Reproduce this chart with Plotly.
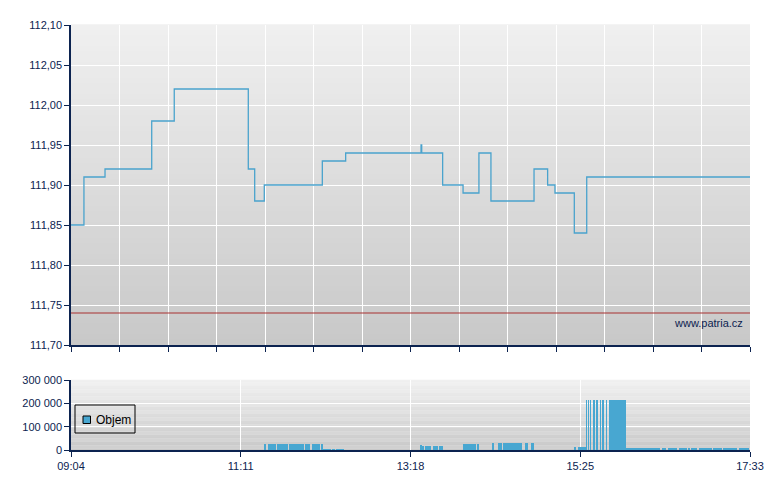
import plotly.graph_objects as go

# ---------------- data ----------------
SESSION_MINUTES = 509  # 09:04 -> 17:33

# price: step changes (minutes from 09:04) and price after the change
price_minutes = [0, 9.7, 25.5, 60.5, 77.4, 132.9, 137.7, 144.9, 188.4, 205.9,
                 262.4, 262.9, 278.6, 293.9, 305.8, 314.8, 347.1, 357.3, 362.8,
                 377.3, 386.6, 509]
price_values = [111.85, 111.91, 111.92, 111.98, 112.02, 111.92, 111.88, 111.90,
                111.93, 111.94, 111.95, 111.94, 111.90, 111.89, 111.94, 111.88,
                111.92, 111.90, 111.89, 111.84, 111.91, 111.91]

reference_price = 111.74

# volume blocks: start / end (minutes from 09:04) and volume
vol_start = [145.0, 147.5, 154.5, 163.5, 175.5, 180.5, 188.0, 189.0, 196.0, 199.0,
             262.0, 263.5, 265.0, 267.0, 271.0, 273.0, 275.5,
             293.9, 305.0,
             315.6, 320.1, 324.1, 326.8, 330.8, 333.6, 340.3, 344.8,
             377.0, 380.0,
             386.1, 387.6, 389.1, 391.3, 394.3, 396.6, 398.8, 401.1, 403.3,
             416.0, 419.4, 423.9, 428.4, 432.9, 442.7, 447.2, 455.4, 462.9,
             465.1, 470.4, 478.6, 481.6, 489.1, 493.6, 500.4, 504.1]
vol_end = [146.5, 153.5, 162.5, 174.5, 179.5, 187.0, 189.0, 195.0, 198.0, 205.0,
           263.0, 264.5, 266.5, 270.0, 272.5, 275.0, 279.0,
           303.6, 306.0,
           317.1, 323.3, 326.6, 330.4, 333.4, 338.3, 342.8, 347.1,
           378.5, 386.0,
           386.8, 388.3, 389.8, 392.8, 395.1, 397.3, 399.6, 401.8, 416.0,
           418.7, 423.2, 427.7, 432.2, 441.5, 446.4, 454.6, 462.1, 464.0,
           469.6, 477.9, 480.5, 488.0, 492.9, 499.6, 503.4, 508.6]
vol_value = [26000, 26000, 26000, 26000, 26000, 26000, 26000, 3000, 3000, 3000,
             23000, 17000, 17000, 17000, 17000, 17000, 17000,
             26000, 26000,
             31000, 31000, 31000, 31000, 31000, 31000, 31000, 31000,
             13000, 13000,
             214000, 214000, 214000, 214000, 214000, 214000, 214000, 214000, 214000,
             8000, 8000, 8000, 8000, 8000, 8000, 8000, 8000, 8000,
             8000, 8000, 8000, 8000, 8000, 8000, 8000, 8000]

price_ticks = [111.70, 111.75, 111.80, 111.85, 111.90, 111.95, 112.00, 112.05, 112.10]
price_tick_text = ["111,70", "111,75", "111,80", "111,85", "111,90", "111,95",
                   "112,00", "112,05", "112,10"]
vol_ticks = [0, 100000, 200000, 300000]
vol_tick_text = ["0", "100 000", "200 000", "300 000"]
time_tick_text = ["09:04", "11:11", "13:18", "15:25", "17:33"]
legend_label = "Objem"
watermark = "www.patria.cz"

# ---------------- style ----------------
NAVY = "#0c2350"
LINE_BLUE = "#4aa3cd"
BAR_BLUE = "#48a7d1"
FONT = "Liberation Sans, Arial, sans-serif"

# plot-area geometry (pixels in the 780x490 picture)
PX_L, PX_R, PX_T, PX_B = 71, 750, 25, 450
PAGE_OFFSET = 8  # browser body margin


def px_x(px):
    return (px - PX_L) / (PX_R - PX_L)


def px_y(py):
    return (PX_B - py) / (PX_B - PX_T)


fig = go.Figure()

fig.add_trace(go.Scatter(
    x=price_minutes, y=price_values, mode="lines",
    line=dict(shape="hv", color=LINE_BLUE, width=1.3),
    showlegend=False, hoverinfo="skip", xaxis="x", yaxis="y"))

fig.add_trace(go.Scatter(
    x=[0, SESSION_MINUTES], y=[reference_price, reference_price], mode="lines",
    line=dict(color="#a83030", width=1), showlegend=False, hoverinfo="skip",
    xaxis="x", yaxis="y"))

fig.add_trace(go.Bar(
    x=[(s + e) / 2 for s, e in zip(vol_start, vol_end)],
    y=vol_value,
    width=[e - s for s, e in zip(vol_start, vol_end)],
    marker=dict(color=BAR_BLUE, line=dict(width=0)),
    showlegend=False, xaxis="x2", yaxis="y2", hoverinfo="skip"))


# gradient backgrounds
def gradient(xref, yref, top=(0xf0, 0xf0, 0xf0), bottom=(0xc8, 0xc8, 0xc8), n=60):
    shapes = []
    for i in range(n):
        t = (i + 0.5) / n
        c = tuple(round(top[k] + (bottom[k] - top[k]) * t) for k in range(3))
        shapes.append(dict(
            type="rect", xref=xref, yref=yref, x0=0, x1=1,
            y0=1 - (i + 1) / n, y1=1 - i / n + 0.002,
            fillcolor="rgb(%d,%d,%d)" % c, line=dict(width=0), layer="below"))
    return shapes


shapes = gradient("x domain", "y domain") + gradient("x2 domain", "y2 domain")

# hand-drawn legend box for the volume panel
shapes.append(dict(type="rect", xref="paper", yref="paper",
                   x0=px_x(75), x1=px_x(135), y0=px_y(433), y1=px_y(405),
                   line=dict(color="black", width=1), fillcolor="rgba(0,0,0,0)",
                   layer="above"))
shapes.append(dict(type="rect", xref="paper", yref="paper",
                   x0=px_x(83), x1=px_x(90.5), y0=px_y(423.5), y1=px_y(416),
                   line=dict(color="black", width=1), fillcolor=BAR_BLUE,
                   layer="above"))

main_ticks = [SESSION_MINUTES * k / 14 for k in range(15)]
vol_time_ticks = [SESSION_MINUTES * k / 4 for k in range(5)]

axis_common = dict(showline=True, linecolor=NAVY, linewidth=1.5,
                   ticks="outside", tickcolor=NAVY, ticklen=5, tickwidth=1,
                   gridcolor="white", gridwidth=1, zeroline=False,
                   tickfont=dict(family=FONT, size=11, color=NAVY))

fig.update_layout(
    width=780, height=490,
    margin=dict(l=PX_L - PAGE_OFFSET, r=780 - PX_R + PAGE_OFFSET,
                t=PX_T - PAGE_OFFSET, b=490 - PX_B + PAGE_OFFSET),
    paper_bgcolor="white", plot_bgcolor="rgba(0,0,0,0)",
    font=dict(family=FONT, size=11, color=NAVY),
    shapes=shapes,
    xaxis=dict(domain=[0, 1], range=[0, SESSION_MINUTES], tickvals=main_ticks,
               showticklabels=False, anchor="y", **axis_common),
    yaxis=dict(domain=[px_y(345), 1], range=[111.70, 112.10], tickvals=price_ticks,
               ticktext=price_tick_text, anchor="x", **axis_common),
    xaxis2=dict(domain=[0, 1], range=[0, SESSION_MINUTES], tickvals=vol_time_ticks,
                ticktext=time_tick_text, anchor="y2", **axis_common),
    yaxis2=dict(domain=[0, px_y(380)], range=[0, 300000], tickvals=vol_ticks,
                ticktext=vol_tick_text, anchor="x2", **axis_common),
    bargap=0,
    showlegend=False,
    annotations=[
        dict(text=watermark, xref="x", yref="y", x=505.5, y=111.7275,
             xanchor="right", yanchor="middle", showarrow=False,
             font=dict(family=FONT, size=11, color=NAVY)),
        dict(text=legend_label, xref="paper", yref="paper", x=px_x(94), y=px_y(420),
             xanchor="left", yanchor="middle", showarrow=False,
             font=dict(family=FONT, size=12, color="black")),
    ],
)

fig.write_html("out.html")
